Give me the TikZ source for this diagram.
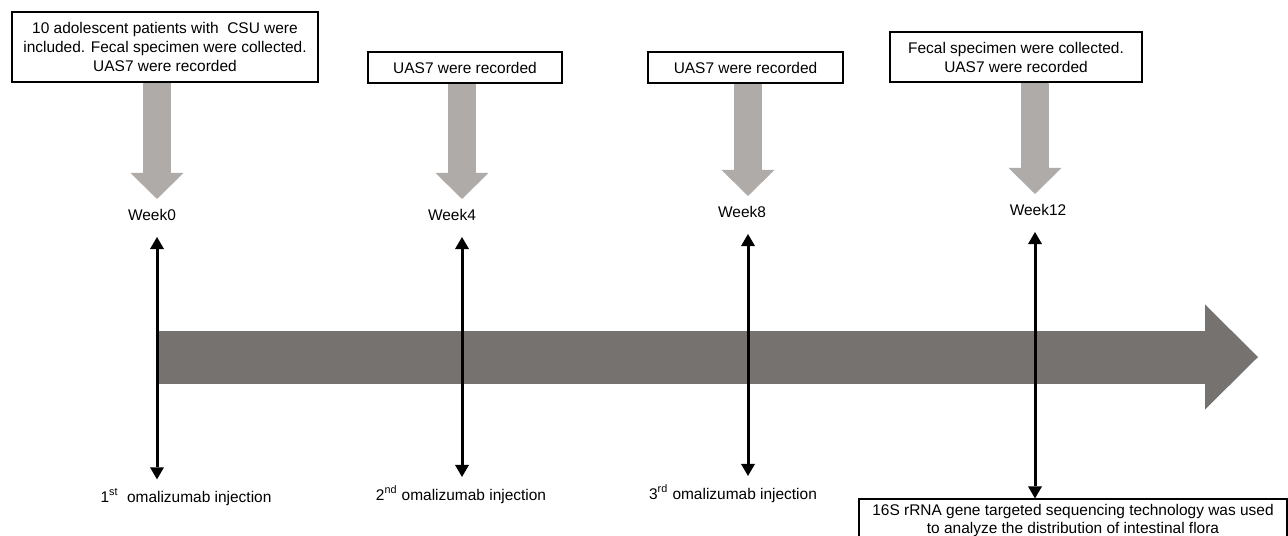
\documentclass[tikz,border=0pt]{standalone}
\usepackage{fontspec}
\setmainfont{Liberation Sans}
\usetikzlibrary{arrows.meta,positioning}
\definecolor{tlgray}{RGB}{118,114,111}
\definecolor{pgray}{RGB}{174,171,168}

\begin{document}
\begin{tikzpicture}[x=0.02cm, y=-0.02cm,
  font=\fontsize{8.8}{10.8}\selectfont,
  infobox/.style={draw, line width=0.7pt, align=center, inner sep=0pt},
  weeklabel/.style={inner sep=0pt},
  pointer/.style={pgray, line width=0.56cm, shorten >=0.2cm,
    -{Triangle[width=1.06cm, length=0.52cm, line width=0pt]}},
  tick/.style={line width=0.06cm, shorten <=0.32cm, shorten >=0.06cm,
    {Triangle[width=0.28cm, length=0.24cm, line width=0pt]}-{Triangle[width=0.28cm, length=0.24cm, line width=0pt]}}]

  \useasboundingbox (0,0) rectangle (1288,535);

  % time line
  \coordinate (tstart) at (157,357);
  \coordinate (tend) at (1258,357);
  \draw[tlgray, line width=1.06cm, -{Triangle[width=2.1cm, length=1.06cm, line width=0pt]}] (tstart) -- (tend);

  % marks on the time line
  \coordinate (m0) at (157,357);
  \coordinate (m4) at (462,357);
  \coordinate (m8) at (748,357);
  \coordinate (m12) at (1035,357);

  % boxes on top
  \node[infobox, minimum width=6.12cm, minimum height=1.4cm] (b1) at (165,47)
    {10 adolescent patients with\ \ CSU were\\ included. Fecal specimen were collected.\\ UAS7 were recorded};
  \node[infobox, minimum width=3.88cm, minimum height=0.62cm] (b2) at (465,67.5) {UAS7 were recorded};
  \node[infobox, minimum width=3.9cm, minimum height=0.62cm] (b3) at (745.5,67.5) {UAS7 were recorded};
  \node[infobox, minimum width=5.04cm, minimum height=1.0cm] (b4) at (1016,57)
    {Fecal specimen were collected.\\ UAS7 were recorded};

  % weeks
  \node[weeklabel] (w0) at (152,215) {Week0};
  \node[weeklabel] (w4) at (452,215) {Week4};
  \node[weeklabel] (w8) at (742,212) {Week8};
  \node[weeklabel] (w12) at (1038,210) {Week12};

  % injections
  \node (i1) at (186,497) {1\textsuperscript{st}\ \ omalizumab injection};
  \node (i2) at (461,495) {2\textsuperscript{nd} omalizumab injection};
  \node (i3) at (733,494) {3\textsuperscript{rd} omalizumab injection};
  \node[infobox, minimum width=8.56cm, minimum height=0.86cm] (b5) at (1073,520.5)
    {16S rRNA gene targeted sequencing technology was used\\ to analyze the distribution of intestinal flora};

  % gray pointers
  \draw[pointer] (m0 |- b1.south) -- (m0 |- w0.north);
  \draw[pointer] (m4 |- b2.south) -- (m4 |- w4.north);
  \draw[pointer] (m8 |- b3.south) -- (m8 |- w8.north);
  \draw[pointer] (m12 |- b4.south) -- (m12 |- w12.north);

  % double arrows
  \draw[tick] (m0 |- w0.south) -- (m0 |- i1.north);
  \draw[tick] (m4 |- w4.south) -- (m4 |- i2.north);
  \draw[tick] (m8 |- w8.south) -- (m8 |- i3.north);
  \draw[tick, shorten >=0pt] (m12 |- w12.south) -- (m12 |- b5.north);
\end{tikzpicture}
\end{document}
